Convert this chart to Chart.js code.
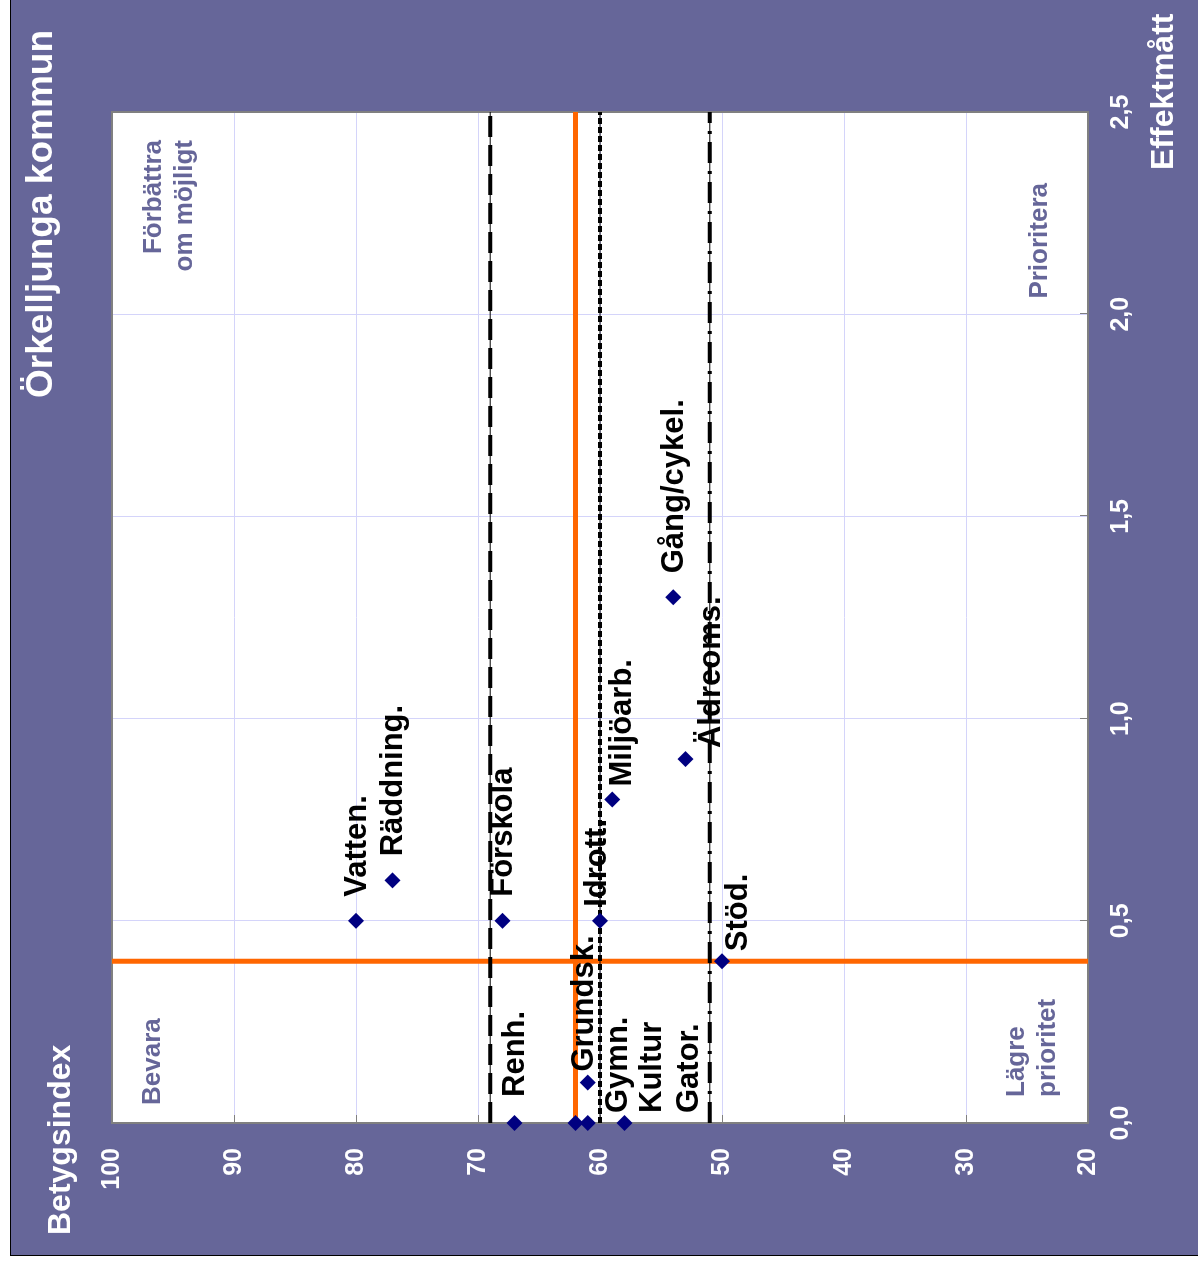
<!DOCTYPE html>
<html><head><meta charset="utf-8">
<script src="https://cdn.jsdelivr.net/npm/chart.js@4"></script>
<style>
html,body{margin:0;padding:0;background:#fff;overflow:hidden;width:1198px;height:1264px;}
#wrap{position:absolute;left:0;top:0;width:1258px;height:1190px;transform-origin:0 0;transform:translate(10px,1256px) rotate(-90deg);}
canvas{display:block;}
</style></head><body>
<div id="wrap"><canvas id="c" width="1258" height="1190"></canvas></div>
<script>
// ---- data ----
const kategorier   = ['Vatten.','Räddning.','Förskola','Idrott.','Miljöarb.','Äldreoms.','Gång/cykel.','Stöd.','Renh.','Grundsk.','Gymn.','Kultur','Gator.'];
const betygsindex  = [80, 77, 68, 60, 59, 53, 54, 50, 67, 61, 58, 61, 62];
const effektmatt   = [0.5, 0.6, 0.5, 0.5, 0.8, 0.9, 1.3, 0.4, 0, 0.1, 0, 0, 0];
const medelBetyg   = 62;
const medelEffekt  = 0.4;
const gransBetyg   = [69, 60, 51];
const betygTicks   = [20, 30, 40, 50, 60, 70, 80, 90, 100];
const effektTicks  = [0, 0.5, 1.0, 1.5, 2.0, 2.5];
const titel        = 'Örkelljunga kommun';
const betygTitel   = 'Betygsindex';
const effektTitel  = 'Effektmått';
const kvadranter   = { bevara: ['Bevara'], forbattra: ['Förbättra','om möjligt'], prioritera: ['Prioritera'], lagre: ['Lägre','prioritet'] };

// ---- styling (label nudges in px) ----
const etikettFlytt = [[0,0],[0,0],[0,0],[-10,-4],[-11,9],[-13,25],[0,0],[-14,15],[2,0],[-13,-4],[-14,-7],[-14,64],[-14,113]];
const FONT = "'Liberation Sans', Arial, sans-serif";
const BG = '#666699';
const GRID = '#d4d4fa';
const dashStyles = [[21,8],[6,3],[21,8,3,8]];

const yMin = betygTicks[0], yMax = betygTicks[betygTicks.length-1];
const xMin = effektTicks[0], xMax = effektTicks[effektTicks.length-1];

function txt(ctx, s, x, y, align, font, color){
  ctx.font = font; ctx.fillStyle = color; ctx.textAlign = align; ctx.textBaseline = 'alphabetic';
  ctx.fillText(s, x, y);
}

const frame = {
  id: 'frame',
  beforeDraw(chart){
    const {ctx, chartArea:a, width, height} = chart;
    ctx.save();
    ctx.fillStyle = BG; ctx.fillRect(0,0,width,height);
    ctx.fillStyle = '#fff'; ctx.fillRect(a.left, a.top, a.right-a.left, a.bottom-a.top);
    ctx.strokeStyle = '#000'; ctx.lineWidth = 1; ctx.strokeRect(0.5,0.5,width-1,height-1);
    // titles
    txt(ctx, titel, 1226, 42, 'right', 'bold 37px '+FONT, '#fff');
    txt(ctx, betygTitel, 21, 60, 'left', 'bold 32px '+FONT, '#fff');
    txt(ctx, effektTitel, 1086, 1163, 'left', 'bold 32px '+FONT, '#fff');
    ctx.restore();
  },
  beforeDatasetsDraw(chart){
    const {ctx, chartArea:a, scales} = chart;
    ctx.save();
    // inward tick marks
    ctx.strokeStyle = '#808080'; ctx.lineWidth = 1;
    ctx.beginPath();
    betygTicks.forEach(v=>{ const y = Math.round(scales.y.getPixelForValue(v))+0.5; ctx.moveTo(a.left, y); ctx.lineTo(a.left+8, y); });
    effektTicks.forEach(v=>{ const x = Math.round(scales.x.getPixelForValue(v))+0.5; ctx.moveTo(x, a.bottom); ctx.lineTo(x, a.bottom-8); });
    ctx.stroke();
    // plot border
    ctx.strokeStyle = '#808080'; ctx.lineWidth = 2;
    ctx.strokeRect(a.left, a.top, a.right-a.left, a.bottom-a.top);
    // quadrant texts
    const qf = 'bold 26px '+FONT, qc = '#666699';
    kvadranter.forbattra.forEach((s,i)=>txt(ctx, s, a.right-28, 151+31*i, 'right', qf, qc));
    kvadranter.bevara.forEach((s,i)=>txt(ctx, s, a.left+18, 150+31*i, 'left', qf, qc));
    kvadranter.prioritera.forEach((s,i)=>txt(ctx, s, a.right-71, 1037+31*i, 'right', qf, qc));
    kvadranter.lagre.forEach((s,i)=>txt(ctx, s, a.left+26, 1014+31*i, 'left', qf, qc));
    ctx.restore();
  },
  afterDatasetDraw(chart, args){
    if (chart.data.datasets[args.index].role !== 'underLabels') return;
    const {ctx} = chart;
    const meta = chart.getDatasetMeta(chart.data.datasets.findIndex(d=>d.role==='points'));
    ctx.save();
    ctx.font = 'bold 31px '+FONT; ctx.fillStyle = '#000'; ctx.textAlign = 'left'; ctx.textBaseline = 'middle';
    meta.data.forEach((pt,i)=>{
      const f = etikettFlytt[i] || [0,0];
      ctx.fillText(kategorier[i], pt.x + 24 + f[0], pt.y + 1 + f[1]);
    });
    ctx.restore();
  }
};

const datasets = [
  {data:[{x:medelEffekt,y:yMin},{x:medelEffekt,y:yMax}], showLine:true, borderColor:'#ff6600', borderWidth:5, pointRadius:0, order:9, borderCapStyle:'butt'},
  {role:'underLabels', data:[{x:xMin,y:medelBetyg},{x:xMax,y:medelBetyg}], showLine:true, borderColor:'#ff6600', borderWidth:5, pointRadius:0, order:8, borderCapStyle:'butt'}
];
gransBetyg.forEach((g,i)=>{
  datasets.push({data:[{x:xMin,y:g},{x:xMax,y:g}], showLine:true, borderColor:'#000', borderWidth:1, pointRadius:0, order:4});
  datasets.push({data:[{x:xMin,y:g},{x:xMax,y:g}], showLine:true, borderColor:'#000', borderWidth:4, borderDash:dashStyles[i], pointRadius:0, order:3, borderCapStyle:'butt'});
});
datasets.push({role:'points', data: effektmatt.map((x,i)=>({x, y:betygsindex[i]})), pointStyle:'rectRot', pointRadius:8, backgroundColor:'#000080', borderColor:'#000080', borderWidth:0, order:1, clip:false});

new Chart(document.getElementById('c'), {
  type: 'scatter',
  data: { datasets },
  options: {
    responsive:false, animation:false, events:[], devicePixelRatio:1,
    layout:{ padding:{ left:0, top:102, right:114, bottom:0 } },
    plugins:{ legend:{display:false}, tooltip:{enabled:false}, title:{display:false} },
    scales:{
      x:{ type:'linear', min:xMin, max:xMax,
          afterFit(s){ s.height = 112; },
          afterBuildTicks(s){ s.ticks = effektTicks.map(v=>({value:v})); },
          grid:{ color:GRID, lineWidth:1, drawTicks:false },
          border:{ display:false },
          ticks:{ color:'#fff', padding:18, maxRotation:0, autoSkip:false, font:{family:FONT, size:25, weight:'bold'},
                  callback:(v)=>Number(v).toFixed(1).replace('.',',') } },
      y:{ type:'linear', min:yMin, max:yMax,
          afterFit(s){ s.width = 133; },
          afterBuildTicks(s){ s.ticks = betygTicks.map(v=>({value:v})); },
          grid:{ color:GRID, lineWidth:1, drawTicks:false },
          border:{ display:false },
          ticks:{ color:'#fff', padding:25, autoSkip:false, font:{family:FONT, size:25, weight:'bold'},
                  callback:(v)=>String(v) } }
    }
  },
  plugins:[frame]
});
</script>
</body></html>
